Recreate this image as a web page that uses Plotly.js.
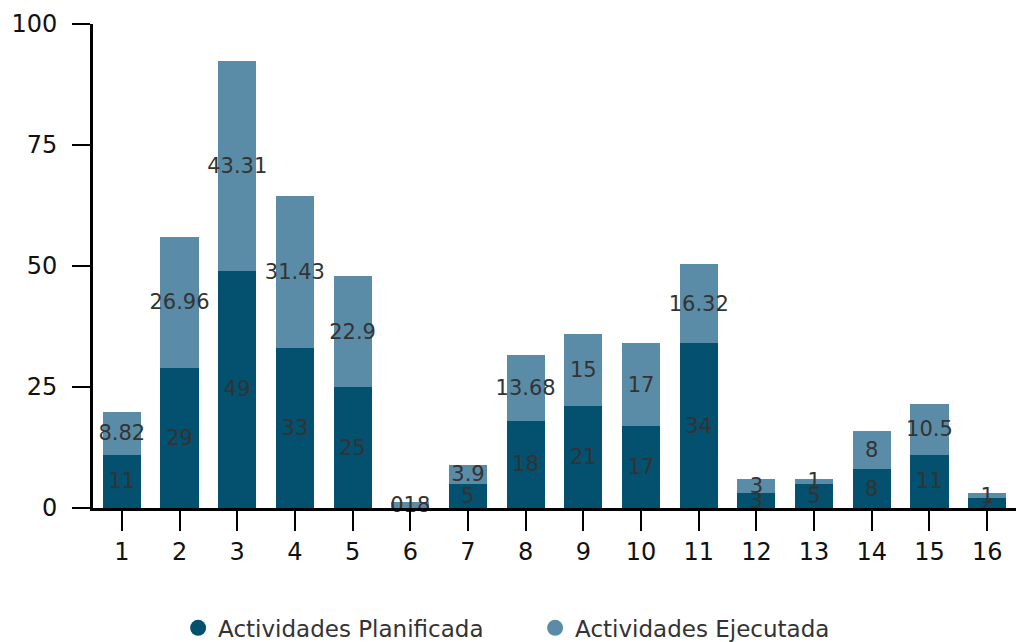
<!DOCTYPE html>
<html><head><meta charset="utf-8">
<script src="https://cdn.plot.ly/plotly-3.0.1.min.js"></script>
<style>html,body{margin:0;padding:0;background:#fff}#chart{width:1023px;height:642px}</style>
</head><body><div id="chart"></div>
<script>
const categories = ['1','2','3','4','5','6','7','8','9','10','11','12','13','14','15','16'];
const planificada = [11, 29, 49, 33, 25, 0, 5, 18, 21, 17, 34, 3, 5, 8, 11, 2];
const ejecutada = [8.82, 26.96, 43.31, 31.43, 22.9, 1.2, 3.9, 13.68, 15, 17, 16.32, 3, 1, 8, 10.5, 1];
const planLabels = ['11','29','49','33','25','','5','18','21','17','34','3','5','8','11','2'];
const ejecLabels = ['8.82','26.96','43.31','31.43','22.9','018','3.9','13.68','15','17','16.32','3','1','8','10.5','1'];
const yTicks = [0, 25, 50, 75, 100];

const darkColor = '#03506f';
const lightColor = '#5a8ca7';
const FONT = 'DejaVu Sans, sans-serif';

const traces = [
  {type:'bar', x:categories, y:planificada, name:'Actividades Planificada', marker:{color:darkColor},
   text:planLabels, textposition:'inside', insidetextanchor:'middle', constraintext:'none', textangle:0, cliponaxis:false,
   textfont:{color:'#333333', size:21, family:FONT}, showlegend:false, hoverinfo:'skip'},
  {type:'bar', x:categories, y:ejecutada, name:'Actividades Ejecutada', marker:{color:lightColor},
   text:ejecLabels, textposition:'inside', insidetextanchor:'middle', constraintext:'none', textangle:0, cliponaxis:false,
   textfont:{color:'#333333', size:21, family:FONT}, showlegend:false, hoverinfo:'skip'},
  {type:'scatter', mode:'markers', x:[null], y:[null], name:'Actividades Planificada',
   marker:{symbol:'circle', size:24, color:darkColor}, showlegend:true},
  {type:'scatter', mode:'markers', x:[null], y:[null], name:'Actividades Ejecutada',
   marker:{symbol:'circle', size:24, color:lightColor}, showlegend:true}
];

const layout = {
  width:1023, height:642,
  margin:{l:93, r:7, t:24, b:134},
  barmode:'stack', bargap:0.34,
  paper_bgcolor:'#fff', plot_bgcolor:'#fff',
  font:{family:FONT, color:'#111', size:22},
  uniformtext:{mode:false},
  xaxis:{type:'category', categoryorder:'array', categoryarray:categories, range:[-0.5,15.5], automargin:false,
    showline:true, linecolor:'#000', linewidth:3, ticks:'outside', ticklen:20, tickwidth:2, tickcolor:'#000',
    showgrid:false, zeroline:false, tickfont:{size:24, family:FONT, color:'#111'}, fixedrange:true},
  yaxis:{range:[0,100], tickvals:yTicks, ticktext:yTicks.map(String), automargin:false,
    showline:true, linecolor:'#000', linewidth:3, ticks:'outside', ticklen:18, tickwidth:2, tickcolor:'#000',
    showgrid:false, zeroline:false, tickfont:{size:24, family:FONT, color:'#111'}, ticklabelstandoff:10, fixedrange:true},
  showlegend:true,
  legend:{orientation:'h', x:0.479, xanchor:'center', xref:'paper', yref:'container', y:0.022, yanchor:'middle',
    font:{size:23, family:FONT, color:'#333'}, entrywidth:312, entrywidthmode:'pixels',
    itemsizing:'trace', traceorder:'normal', itemwidth:30}
};

Plotly.newPlot('chart', traces, layout, {displayModeBar:false, staticPlot:true});
</script></body></html>
